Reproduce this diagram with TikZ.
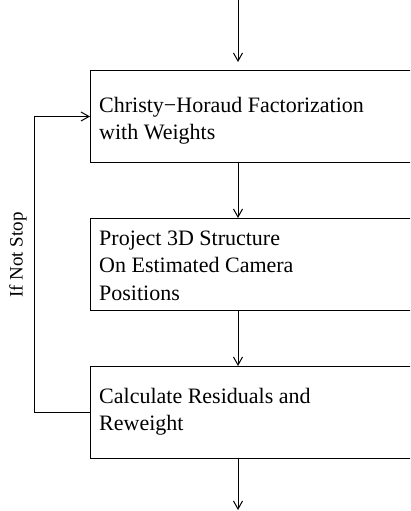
\documentclass[tikz,border=0pt]{standalone}
\usepackage{fontspec}
\setmainfont{Liberation Serif}
\usetikzlibrary{arrows.meta}
\begin{document}
\begin{tikzpicture}[x=1pt,y=-1pt,
  boxnode/.style={draw,line width=1pt,minimum width=322pt,minimum height=92pt,inner sep=0pt,anchor=north west},
  txt/.style={anchor=base west,inner sep=0pt,font=\fontsize{22}{27.5}\selectfont},
  arr/.style={line width=1pt,-{Straight Barb[length=8pt,width=9pt,line width=1pt]}},
  plain/.style={line width=1pt}]
\useasboundingbox (0,0) rectangle (410,511);
\clip (0,0) rectangle (410,511);
\fill[white] (0,0) rectangle (410,511);
\node[boxnode] (b1) at (90,70) {};
\node[boxnode] (b2) at (90,218) {};
\node[boxnode] (b3) at (90,366) {};
\node[txt] (t1a) at (99,112) {Christy−Horaud Factorization};
\node[txt] (t1b) at (99,139) {with Weights};
\node[txt] (t2a) at (99,245) {Project 3D Structure};
\node[txt] (t2b) at (99,272.5) {On Estimated Camera};
\node[txt] (t2c) at (99,300) {Positions};
\node[txt] (t3a) at (99,403) {Calculate Residuals and};
\node[txt] (t3b) at (99,430) {Reweight};
\node[rotate=90,font=\fontsize{19}{22}\selectfont,inner sep=0pt] (lbl) at (18,255) {If Not Stop};
\coordinate (axis) at (238,0);
\coordinate (tip1) at (238,62);
\coordinate (endc) at (238,510);
\coordinate (corner) at (34,0);
\draw[arr] (axis) -- (tip1);
\draw[arr] (b1.south -| axis) -- (b2.north -| axis);
\draw[arr] (b2.south -| axis) -- (b3.north -| axis);
\draw[arr] (b3.south -| axis) -- (endc);
\draw[arr] (b3.west) -- (b3.west -| corner) |- (b1.west);
\end{tikzpicture}
\end{document}
